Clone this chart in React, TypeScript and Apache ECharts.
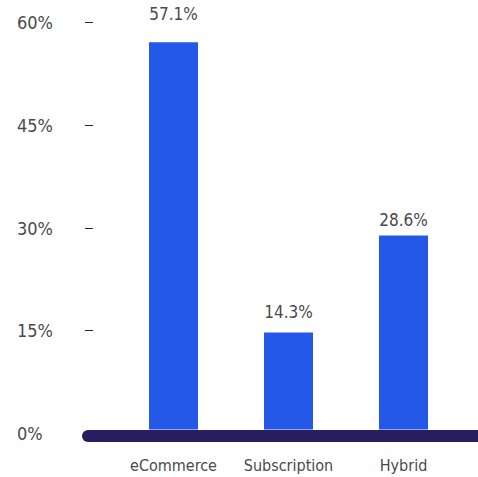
import React, { useEffect, useRef } from "react";
import * as echarts from "echarts";

const categories = ["eCommerce", "Subscription", "Hybrid"];
const shares = [57.1, 14.3, 28.6];
const axisMin = 0;
const axisMax = 60;
const axisStep = 15;
const labelDistances = [19.5, 12, 7];

const FONT = "'DejaVu Sans Condensed', 'DejaVu Sans', sans-serif";
const TEXT = "#4a4a4a";
const NAVY = "#281f63";
const BLUE = "#2459e8";

const W = 478;
const H = 477;
const BAR_GRID = { left: 116, right: 17, top: 22.7, bottom: 47.5 };
const TICK_GRID = { left: 93, right: 17, top: 22.7, bottom: 43.6 };

export default function App() {
  const ref = useRef<HTMLDivElement>(null);
  useEffect(() => {
    if (!ref.current) return;
    const chart = echarts.init(ref.current, null, { renderer: "svg" });
    const baseY = H - BAR_GRID.bottom;
    chart.setOption({
      animation: false,
      textStyle: { fontFamily: FONT, color: TEXT },
      grid: [BAR_GRID, TICK_GRID],
      xAxis: [
        {
          gridIndex: 0,
          type: "category",
          data: categories,
          axisLine: { show: false },
          axisTick: { show: false },
          axisLabel: { margin: 28, fontSize: 16, color: TEXT, fontFamily: FONT, interval: 0 },
        },
        { gridIndex: 1, type: "value", show: false },
      ],
      yAxis: [
        { gridIndex: 0, type: "value", min: axisMin, max: axisMax, show: false },
        {
          gridIndex: 1,
          type: "value",
          min: axisMin,
          max: axisMax,
          interval: axisStep,
          axisLine: { show: false },
          axisTick: { show: true, length: 8, lineStyle: { color: NAVY, width: 1 } },
          splitLine: { show: false },
          axisLabel: {
            formatter: "{value}%",
            align: "left",
            margin: 76,
            fontSize: 18,
            color: TEXT,
            fontFamily: FONT,
          },
        },
      ],
      graphic: [
        {
          type: "rect",
          z: 100,
          shape: { x: 82, y: baseY + 0.5, width: W - 82 + 20, height: 12, r: 6 },
          style: { fill: NAVY },
        },
      ],
      series: [
        {
          type: "bar",
          xAxisIndex: 0,
          yAxisIndex: 0,
          barWidth: 49,
          itemStyle: { color: BLUE },
          data: shares.map((v, i) => ({
            value: v,
            label: { distance: labelDistances[i] },
          })),
          label: {
            show: true,
            position: "top",
            formatter: "{c}%",
            fontSize: 17,
            color: TEXT,
            fontFamily: FONT,
          },
        },
      ],
    });
    return () => chart.dispose();
  }, []);
  return (
    <div
      ref={ref}
      style={{ position: "absolute", left: 0, top: 0, width: W, height: H }}
    />
  );
}
